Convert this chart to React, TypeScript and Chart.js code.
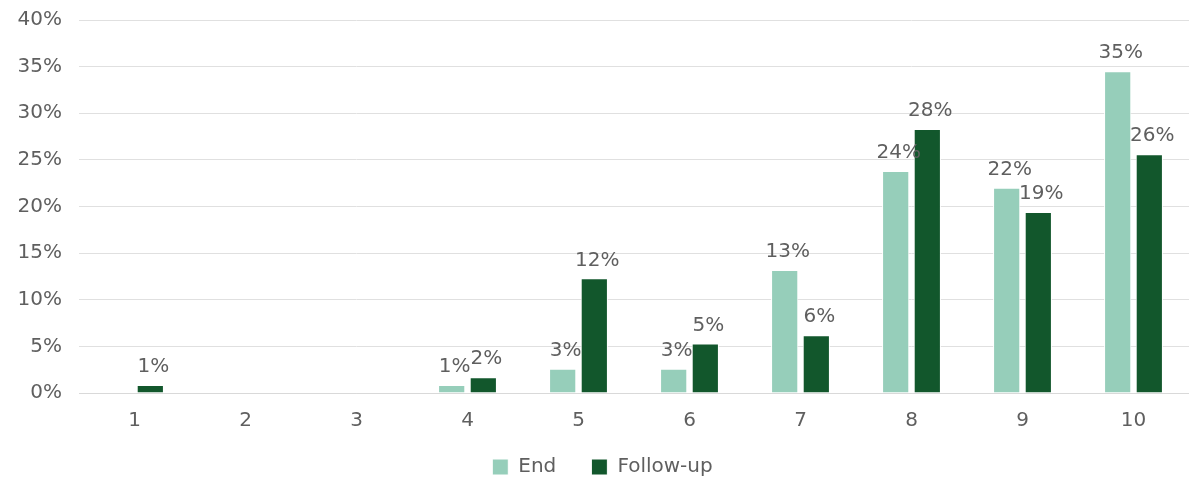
import React, { useEffect, useRef } from "react";
import { Chart, registerables } from "chart.js";

Chart.register(...registerables);

const categories = ["1", "2", "3", "4", "5", "6", "7", "8", "9", "10"];
const endValues = [0, 0, 0, 0.86, 2.6, 2.6, 13.2, 23.8, 22.0, 34.5];
const followValues = [0.86, 0, 0, 1.7, 12.3, 5.3, 6.2, 28.3, 19.4, 25.6];
const seriesNames = ["End", "Follow-up"];
const colors = ["#96CEBA", "#12572C"];

const FONT = "'DejaVu Sans', sans-serif";
const TEXT = "#5f5f5f";

const labelPlugin = {
  id: "barLabels",
  afterDatasetsDraw(chart: any) {
    const ctx = chart.ctx;
    ctx.save();
    ctx.font = `20px ${FONT}`;
    ctx.fillStyle = TEXT;
    ctx.textAlign = "center";
    ctx.textBaseline = "bottom";
    chart.data.datasets.forEach((ds: any, di: number) => {
      const meta = chart.getDatasetMeta(di);
      meta.data.forEach((bar: any, i: number) => {
        const v = ds.data[i];
        if (!v) return;
        ctx.fillText(Math.round(v) + "%", bar.x + 3, bar.y - 8);
      });
    });
    ctx.restore();
  },
};

export default function App() {
  const ref = useRef<HTMLCanvasElement>(null);
  useEffect(() => {
    document.body.style.margin = "0";
    const chart = new Chart(ref.current!, {
      type: "bar",
      data: {
        labels: categories,
        datasets: [
          {
            label: seriesNames[0],
            data: endValues,
            backgroundColor: colors[0],
            borderColor: "#ffffff",
            borderWidth: 1,
            categoryPercentage: 0.57,
            barPercentage: 0.86,
          },
          {
            label: seriesNames[1],
            data: followValues,
            backgroundColor: colors[1],
            borderColor: "#ffffff",
            borderWidth: 1,
            categoryPercentage: 0.57,
            barPercentage: 0.86,
          },
        ],
      },
      options: {
        animation: false,
        responsive: false,
        layout: { padding: { left: 16, right: 0, top: 20, bottom: -8 } },
        scales: {
          x: {
            grid: { display: false },
            border: { display: true, color: "#d9d9d9" },
            ticks: { color: TEXT, font: { family: FONT, size: 20 }, padding: 8 },
          },
          y: {
            min: 0,
            max: 40,
            afterFit: (s: any) => {
              s.width = 63;
            },
            grid: {
              color: "#e0e0e0",
              drawTicks: true,
              tickLength: 12,
              tickColor: "rgba(0,0,0,0)",
            },
            border: { display: false },
            ticks: {
              stepSize: 5,
              color: TEXT,
              font: { family: FONT, size: 20 },
              padding: 5,
              callback: (v: any) => v + "%",
            },
          },
        },
        plugins: {
          legend: {
            position: "bottom",
            labels: {
              color: TEXT,
              font: { family: FONT, size: 20 },
              boxWidth: 16,
              boxHeight: 16,
              padding: 16,
              generateLabels: (chart: any) => {
                const items = Chart.defaults.plugins.legend.labels.generateLabels(chart);
                return items.map((it: any, i: number) =>
                  i === 0 ? { ...it, text: it.text + "   " } : it
                );
              },
            },
          },
          tooltip: { enabled: false },
        },
      },
      plugins: [labelPlugin],
    });
    return () => chart.destroy();
  }, []);
  return <canvas ref={ref} width={1189} height={479} style={{ display: "block" }} />;
}
